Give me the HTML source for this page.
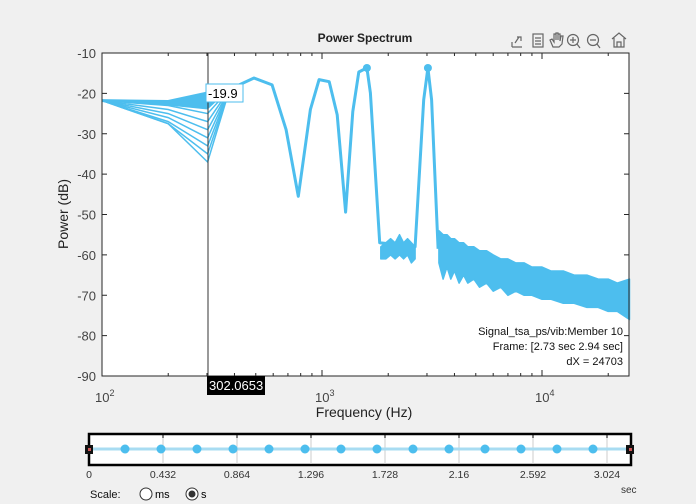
<!DOCTYPE html>
<html><head><meta charset="utf-8"><style>
body{margin:0;background:#f0f0f0;width:696px;height:504px;overflow:hidden;font-family:"Liberation Sans",sans-serif}
svg{position:absolute;left:0;top:0}
</style></head><body>
<svg width="696" height="504">
<rect x="0" y="0" width="696" height="504" fill="#f0f0f0"/>
<text x="365" y="42" text-anchor="middle" font-size="12" font-weight="bold" fill="#222">Power Spectrum</text>
<g fill="none" stroke="#666" stroke-width="1.2">
 <g><path d="M512 47 L512 42 M512 47 L522 47 M515 43 L519 37 M517 37 L521 37 L521 41"/></g>
 <g><rect x="533" y="34" width="10" height="13"/><path d="M535 38h6M535 41h6M535 44h6"/></g>
 <g><path d="M553 47 L550 40 L552 39 L554 42 L554 34 L556 34 L556 40 L556 33 L558 33 L558 40 L558 34 L560 34 L560 41 L561 36 L563 36 L562 44 L559 47 Z"/></g>
 <g><circle cx="573" cy="40" r="5.5"/><path d="M577 44 L580 48 M570 40h6M573 37v6"/></g>
 <g><circle cx="593" cy="40" r="5.5"/><path d="M597 44 L600 48 M590 40h6"/></g>
 <g><path d="M612 39 L619 33 L626 39 M614 38 L614 47 L624 47 L624 38 M617 47 L617 42 L621 42 L621 47"/></g>
</g>
<rect x="102" y="53" width="527" height="323" fill="#fff"/>
<g id="yticks"></g>
<g id="xticks"></g>
<g id="series"></g>
<rect x="102" y="53" width="527" height="323" fill="none" stroke="#262626" stroke-width="1"/>
<text transform="translate(68,214) rotate(-90)" text-anchor="middle" font-size="14" fill="#222">Power (dB)</text>
<text x="364" y="417" text-anchor="middle" font-size="14" fill="#222">Frequency  (Hz)</text>
<g font-size="11" fill="#111" text-anchor="end">
 <text x="623" y="335">Signal_tsa_ps/vib:Member 10</text>
 <text x="623" y="350">Frame: [2.73 sec 2.94 sec]</text>
 <text x="623" y="365">dX = 24703</text>
</g>
<line x1="208" y1="53" x2="208" y2="376" stroke="#333" stroke-width="1"/>
<rect x="206" y="84" width="37" height="18" fill="#fff" stroke="#4dbeee"/>
<text x="208" y="98" font-size="13" fill="#000">-19.9</text>
<rect x="207" y="376" width="58" height="19" fill="#000"/>
<text x="209" y="390" font-size="13" fill="#fff">302.0653</text>
<g>
 <rect x="89" y="434" width="542" height="31" fill="#fff" stroke="#000" stroke-width="2.5"/>
 <g id="tgrid"></g>
 <line x1="89" y1="449" x2="630" y2="449" stroke="#a8dcf2" stroke-width="3"/>
 <g id="tdots"></g>
 <rect x="85" y="445" width="8" height="9" fill="#111"/>
 <rect x="88" y="448" width="3" height="3" fill="#c55"/>
 <rect x="626" y="445" width="8" height="9" fill="#111"/>
 <rect x="629" y="448" width="3" height="3" fill="#c55"/>
</g>
<text x="621" y="493" font-size="10" fill="#333">sec</text>
<text x="90" y="498" font-size="11" fill="#111">Scale:</text>
<g><circle cx="146" cy="494" r="6" fill="#fff" stroke="#333"/><text x="155" y="498" font-size="11">ms</text></g>
<g><circle cx="192" cy="494" r="6" fill="#fff" stroke="#333"/><circle cx="192" cy="494" r="3.5" fill="#333"/><text x="201" y="498" font-size="11">s</text></g>
</svg>
<script>
const yTicks=[-10,-20,-30,-40,-50,-60,-70,-80,-90];
const freqs=[100,200,302,380,491,593,687,780,886,970,1078,1172,1280,1380,1470,1600,1660,1830];
const mainVals=[-21.8,-22,-19.9,-19,-16.2,-17.9,-29,-45.5,-24,-16.6,-17.1,-25.3,-49.4,-24.5,-14.7,-13.7,-19.9,-57];
const memberLow200=[-23,-24,-25,-26,-27,-27.5];
const memberLow302=[-25,-27,-29,-31,-33,-35,-37];
const peak2Freqs=[2650,2900,3030,3150,3370];
const peak2Vals=[-58,-21.6,-13.7,-21.6,-58.5];
const bandFreqs=[1850,1950,2050,2150,2250,2350,2450,2550,2650];
const bandUpper=[-58,-57,-56,-57,-55,-57,-56,-57,-58];
const bandLower=[-61,-61,-60,-61,-60,-61,-60,-62,-61];
const hiFreqs=[3400,3550,3700,3850,4000,4200,4400,4600,4900,5200,5600,6000,6500,7000,7600,8300,9000,10000,11000,12500,14000,16000,18000,20000,22000,25000];
const hiUpper=[-54,-55,-55,-56,-56,-57,-57,-58,-58,-59,-59,-60,-61,-61,-62,-62,-63,-63,-64,-64,-65,-65,-66,-66,-67,-66];
const hiLower=[-62,-66,-63,-66,-64,-67,-65,-67,-66,-68,-67,-69,-68,-70,-69,-70,-70,-71,-71,-72,-72,-73,-73,-74,-74,-76];
const markerFreqs=[1600,3030];
const markerVals=[-13.7,-13.7];
const timeTicks=[0,0.432,0.864,1.296,1.728,2.16,2.592,3.024];
const frameTimes=[0.24,0.48,0.72,0.96,1.2,1.44,1.68,1.92,2.16,2.4,2.64,2.88,3.12,3.36];
const NS='http://www.w3.org/2000/svg';
const X=f=>102+220*(Math.log10(f)-2);
const Y=v=>53+(-10-v)*40.375/10;
const T=t=>89+t*74/0.432;
function mk(tag,attrs,parent){const e=document.createElementNS(NS,tag);for(const k in attrs)e.setAttribute(k,attrs[k]);parent.appendChild(e);return e;}
const yg=document.getElementById('yticks'),xg=document.getElementById('xticks'),sg=document.getElementById('series');
yTicks.forEach(v=>{const y=Y(v);
 mk('line',{x1:102,y1:y,x2:107,y2:y,stroke:'#262626'},yg);
 mk('line',{x1:624,y1:y,x2:629,y2:y,stroke:'#262626'},yg);
 const t=mk('text',{x:96,y:y+5,'text-anchor':'end','font-size':13,fill:'#444'},yg);t.textContent=v;
 
 });
for(let d=2;d<=4;d++){for(let m=1;m<=9;m++){const f=m*Math.pow(10,d);if(f>25119)break;const x=X(f);const L=m===1?6:3;
 mk('line',{x1:x,y1:376,x2:x,y2:376-L,stroke:'#262626'},xg);mk('line',{x1:x,y1:53,x2:x,y2:53+L,stroke:'#262626'},xg);}
 const x=X(Math.pow(10,d));const t=mk('text',{x:x-7,y:402,'font-size':13,fill:'#444'},xg);
 t.innerHTML='10<tspan dy="-6" font-size="9">'+d+'</tspan>';
 
 }
const col='#4dbeee';
function poly(fs,vs){return fs.map((f,i)=>X(f).toFixed(1)+','+Y(vs[i]).toFixed(1)).join(' ');}
memberLow302.forEach((v,i)=>{const l=memberLow200[Math.min(i,memberLow200.length-1)];
 const p=mk('polyline',{points:poly([100,200,302,380],[-21.8,l,v,-19]),fill:'none',stroke:col,'stroke-width':1.5},sg);
 
 });
mk('polygon',{points:poly([100,200,302,380],[-21.8,-22,-19.9,-19])+' '+poly([302,200],[-24,-23]),fill:col},sg);
const ml=mk('polyline',{points:poly(freqs,mainVals)+' '+poly(peak2Freqs,peak2Vals),fill:'none',stroke:col,'stroke-width':3,'stroke-linejoin':'round'},sg);


const b1=mk('polygon',{points:poly(bandFreqs,bandUpper)+' '+poly(bandFreqs.slice().reverse(),bandLower.slice().reverse()),fill:col,stroke:col,'stroke-width':1.5,'stroke-linejoin':'round'},sg);


const b2=mk('polygon',{points:poly(hiFreqs,hiUpper)+' '+poly(hiFreqs.slice().reverse(),hiLower.slice().reverse()),fill:col,stroke:col,'stroke-width':1.5,'stroke-linejoin':'round'},sg);


markerFreqs.forEach((f,i)=>{const c=mk('circle',{cx:X(f),cy:Y(markerVals[i]),r:4,fill:col},sg);
 
 });
const tg=document.getElementById('tgrid'),td=document.getElementById('tdots');
timeTicks.forEach(t=>{const x=T(t);
 if(t>0){mk('line',{x1:x,y1:435,x2:x,y2:464,stroke:'#ccc'},tg);mk('line',{x1:x,y1:434,x2:x,y2:438,stroke:'#000'},tg);}
 const tx=mk('text',{x:x,y:478,'text-anchor':'middle','font-size':10.5,fill:'#333'},tg);tx.textContent=t;
 
 });
frameTimes.forEach(t=>{const x=89+(t/0.24)*36;const c=mk('circle',{cx:x,cy:449,r:4.5,fill:col},td);
 
 });
</script>
</body></html>
